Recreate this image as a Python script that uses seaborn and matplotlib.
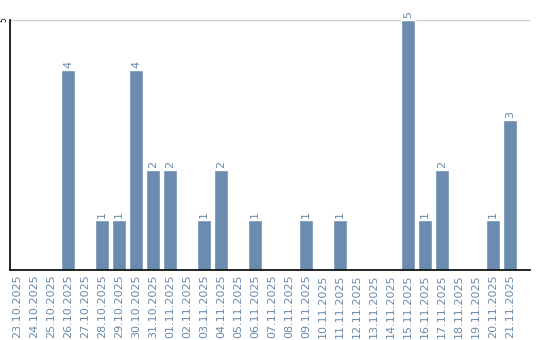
import matplotlib
matplotlib.use("Agg")
import matplotlib.pyplot as plt
import seaborn as sns
import pandas as pd

dates = ["23.10.2025", "24.10.2025", "25.10.2025", "26.10.2025", "27.10.2025",
         "28.10.2025", "29.10.2025", "30.10.2025", "31.10.2025", "01.11.2025",
         "02.11.2025", "03.11.2025", "04.11.2025", "05.11.2025", "06.11.2025",
         "07.11.2025", "08.11.2025", "09.11.2025", "10.11.2025", "11.11.2025",
         "12.11.2025", "13.11.2025", "14.11.2025", "15.11.2025", "16.11.2025",
         "17.11.2025", "18.11.2025", "19.11.2025", "20.11.2025", "21.11.2025"]
counts = [0, 0, 0, 4, 0, 1, 1, 4, 2, 2, 0, 1, 2, 0, 1, 0, 0, 1, 0, 1,
          0, 0, 0, 5, 1, 2, 0, 0, 1, 3]

df = pd.DataFrame({"date": dates, "count": counts})

sns.set_style("white")
plt.rcParams["font.family"] = ["DejaVu Sans"]

bar_color = "#6b8cae"
label_color = "#6a8aab"

fig = plt.figure(figsize=(5.4, 3.4), dpi=100)
ax = fig.add_axes([10/540, 70/340, 520/540, 250/340])
sns.barplot(data=df, x="date", y="count", color=bar_color, width=0.82,
            saturation=1, ax=ax, order=dates)

ax.set_xlim(-0.41, 30.18)
ax.set_ylim(0, 5)
ax.set_yticks([5])
ax.set_yticklabels(["5"], rotation=90, va="center", ha="right", fontsize=5.5, color="black")
ax.tick_params(axis="y", length=0, pad=1.2)
ax.tick_params(axis="x", length=0, pad=3)
ax.set_xticks(range(len(dates)))
ax.set_xticklabels(dates, rotation=90, fontsize=8, color=label_color)
ax.set_xlabel("")
ax.set_ylabel("")
ax.axhline(5, color="#cccccc", lw=1, zorder=0)

for i, v in enumerate(counts):
    if v > 0:
        ax.text(i, v + 0.04, str(v), rotation=90, ha="center", va="bottom",
                fontsize=8, color=label_color, clip_on=False)

for s in ["top", "right"]:
    ax.spines[s].set_visible(False)
ax.spines["left"].set_color("black")
ax.spines["bottom"].set_color("black")
ax.spines["left"].set_linewidth(1.2)
ax.spines["bottom"].set_linewidth(1.2)

fig.savefig("out.png", dpi=100)
